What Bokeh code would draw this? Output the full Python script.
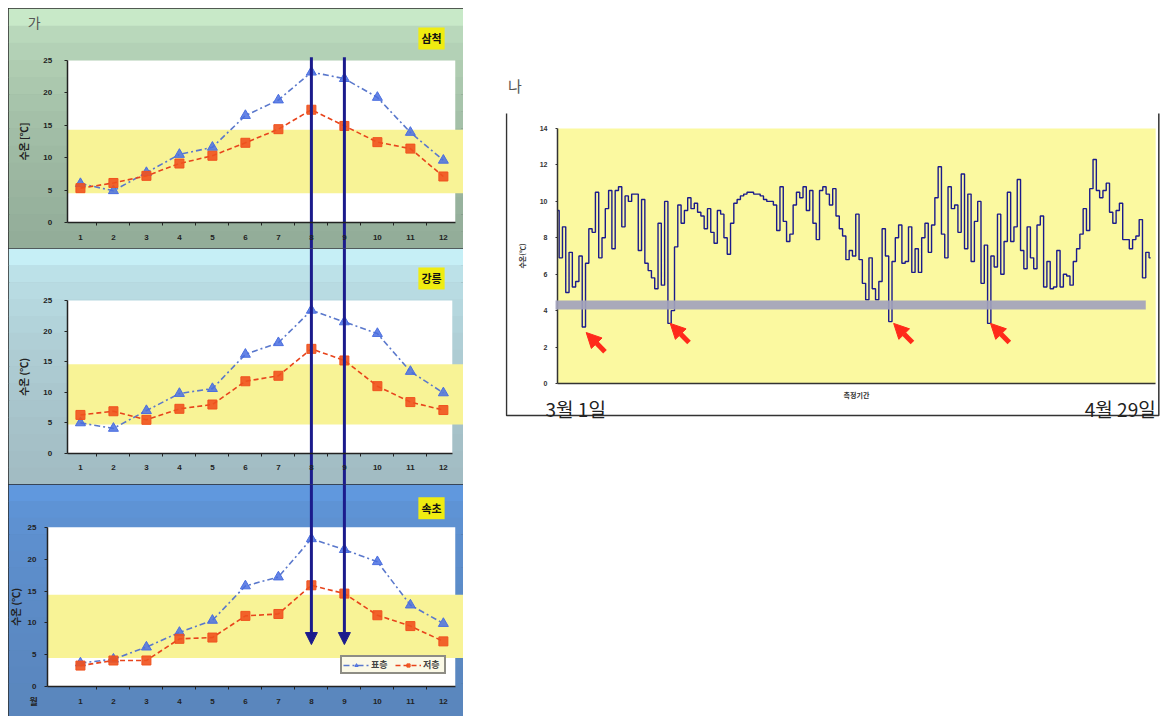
from bokeh.plotting import figure
from bokeh.models import (Range1d, BoxAnnotation, Label, FixedTicker, Arrow,
                          NormalHead, Legend, LegendItem, Spacer)
from bokeh.layouts import row, column
from bokeh.embed import file_html
from bokeh.resources import INLINE

# ---------------- data ----------------
months = [1, 2, 3, 4, 5, 6, 7, 8, 9, 10, 11, 12]
marked_months = [8, 9]

samcheok_surface = [6.0, 4.9, 7.7, 10.5, 11.6, 16.5, 18.9, 23.2, 22.2, 19.3, 13.9, 9.6]
samcheok_bottom = [5.3, 6.1, 7.2, 9.1, 10.3, 12.3, 14.4, 17.4, 14.9, 12.4, 11.4, 7.1]
gangneung_surface = [5.0, 4.1, 7.0, 9.8, 10.6, 16.2, 18.1, 23.4, 21.5, 19.6, 13.4, 9.9]
gangneung_bottom = [6.3, 6.9, 5.5, 7.3, 8.0, 11.8, 12.7, 17.1, 15.2, 11.0, 8.4, 7.1]
sokcho_surface = [3.7, 4.3, 6.2, 8.5, 10.4, 15.8, 17.2, 23.2, 21.5, 19.6, 12.8, 9.9]
sokcho_bottom = [3.3, 4.1, 4.1, 7.5, 7.7, 11.1, 11.4, 15.9, 14.6, 11.2, 9.5, 7.1]

# bottom water temperature, 1 Mar - 29 Apr, one value every 1/3 day
bottom_temp = [
    9.5, 6.9, 8.6, 5.0, 7.2, 5.3, 5.6, 7.0, 3.1, 6.6, 8.5, 8.3, 10.5, 6.9, 8.0,
    9.6, 10.6, 7.4, 10.6, 10.8, 8.6, 10.3, 10.0, 10.4, 10.4, 7.3, 10.1, 6.6, 6.2, 5.8,
    5.2, 8.8, 5.4, 10.0, 3.3, 4.0, 7.5, 9.8, 8.8, 9.5, 10.2, 9.6, 9.9, 9.4, 9.2,
    8.5, 9.6, 8.3, 7.7, 9.5, 9.3, 8.0, 7.1, 8.8, 9.9, 10.1, 10.3, 10.4, 10.5, 10.5,
    10.4, 10.4, 10.3, 10.1, 10.0, 10.0, 9.8, 8.4, 10.8, 8.9, 7.8, 8.2, 9.8, 10.5, 10.2,
    10.8, 9.5, 10.6, 8.8, 7.9, 10.6, 10.8, 10.4, 9.8, 10.7, 9.2, 8.5, 8.1, 6.8, 7.3, 7.0,
    9.3, 6.8, 5.5, 4.6, 6.9, 5.2, 4.6, 5.6, 8.5, 7.0, 3.4, 6.7, 8.0, 8.7, 6.6,
    6.7, 8.6, 6.1, 7.4, 6.1, 8.0, 8.8, 7.2, 8.7, 10.2, 11.9, 8.2, 6.9, 10.8, 9.6,
    9.8, 8.3, 11.5, 7.4, 10.4, 6.7, 8.9, 10.0, 5.5, 7.6, 3.3, 7.0, 6.4, 9.3, 6.0,
    7.8, 10.5, 7.8, 8.6, 11.2, 7.3, 6.3, 8.6, 6.9, 6.3, 8.7, 9.2, 5.3, 6.7, 5.2,
    5.3, 7.3, 5.3, 6.0, 5.9, 5.4, 6.7, 7.4, 8.2, 9.6, 8.4, 10.7, 12.3, 10.6, 10.2,
    10.6, 11.0, 9.4, 8.8, 9.5, 9.9, 7.9, 7.9, 7.4, 7.9, 8.1, 9.0, 5.8, 7.2, 6.9,
]
days = [i / 3 for i in range(len(bottom_temp))]

# low-temperature events (day, value) marked by red arrows
dip_days = [2.9, 11.4, 34.0, 43.8]
dip_vals = [2.8, 3.3, 3.3, 3.3]

NAVY = "#1b1b8c"
BLUE = "#4a6ee0"
RED = "#f0521e"
KFONT = "Noto Sans CJK KR"
NFONT = "Liberation Sans"


def lerp_color(c1, c2, t):
    a = [int(c1[i:i + 2], 16) for i in (1, 3, 5)]
    b = [int(c2[i:i + 2], 16) for i in (1, 3, 5)]
    return "#" + "".join(f"{round(x + (y - x) * t):02x}" for x, y in zip(a, b))


def make_panel(title, surface, bottom, height, y_lo, y_hi, white_lr, band,
               c_top, c_bot, title_y, ylabel, y_axis_x, line_top,
               arrow_end=None, legend=False, tick_standoff=12, label_standoff=10):
    p = figure(width=455, height=height, x_range=Range1d(-1.18, 12.61),
               y_range=Range1d(y_lo, y_hi), output_backend="svg",
               toolbar_location=None, min_border=0)
    p.min_border_left = p.min_border_right = 0
    p.min_border_top = p.min_border_bottom = 0
    p.grid.visible = False
    p.background_fill_color = c_bot
    p.border_fill_color = c_bot
    p.outline_line_color = "#2a2a2a"
    p.outline_line_width = 3

    n = 14
    span = y_hi - y_lo
    for i in range(n):
        t = (i / (n - 1)) ** 0.5
        p.add_layout(BoxAnnotation(bottom=y_hi - span * (i + 1) / n - 0.05,
                                   top=y_hi - span * i / n,
                                   fill_color=lerp_color(c_top, c_bot, t),
                                   fill_alpha=1, line_alpha=0, level="underlay"))
    p.add_layout(BoxAnnotation(left=white_lr[0], right=white_lr[1], bottom=0, top=25,
                               fill_color="white", fill_alpha=1, line_alpha=0,
                               level="underlay"))
    p.add_layout(BoxAnnotation(left=white_lr[0], bottom=band[0], top=band[1],
                               fill_color="#f8f396", fill_alpha=1, line_alpha=0,
                               level="underlay"))

    ls = p.line(months, surface, line_color="#5a78cc", line_width=1.6,
                line_dash="6 3 2 3")
    ms = p.scatter(months, surface, marker="triangle", size=10,
                   fill_color=BLUE, line_color=BLUE, fill_alpha=0.85)
    lb = p.line(months, bottom, line_color="#e8441c", line_width=1.6,
                line_dash="5 3")
    mb = p.scatter(months, bottom, marker="square", size=9,
                   fill_color=RED, line_color=RED, fill_alpha=0.9)

    for m in marked_months:
        if arrow_end is None:
            p.segment(x0=[m], y0=[line_top], x1=[m], y1=[y_lo - 2],
                      line_color=NAVY, line_width=3)
        else:
            p.add_layout(Arrow(end=NormalHead(size=12, fill_color=NAVY,
                                              line_color=NAVY),
                               x_start=m, y_start=line_top, x_end=m, y_end=arrow_end,
                               line_color=NAVY, line_width=3))

    xa = p.xaxis[0]
    ya = p.yaxis[0]
    xa.fixed_location = 0
    ya.fixed_location = y_axis_x
    xa.ticker = FixedTicker(ticks=months, minor_ticks=[m + 0.5 for m in months[:-1]])
    xa.bounds = (white_lr[0], white_lr[1])
    xa.major_tick_out = 0
    xa.major_tick_in = 0
    xa.minor_tick_out = 3
    xa.minor_tick_in = 0
    xa.major_label_standoff = 9
    ya.ticker = FixedTicker(ticks=[0, 5, 10, 15, 20, 25])
    ya.bounds = (0, 25)
    ya.major_tick_out = 3
    ya.major_tick_in = 0
    ya.minor_tick_out = 0
    ya.major_label_standoff = tick_standoff
    ya.axis_label = ylabel
    ya.axis_label_standoff = label_standoff
    ya.axis_label_text_font = KFONT
    ya.axis_label_text_font_size = "10px"
    ya.axis_label_text_font_style = "bold"
    ya.axis_label_text_color = "#222222"
    for ax in (xa, ya):
        ax.axis_line_color = "#222222"
        ax.axis_line_width = 1.5
        ax.major_tick_line_color = "#222222"
        ax.minor_tick_line_color = "#222222"
        ax.major_label_text_font = NFONT
        ax.major_label_text_font_size = "8px"
        ax.major_label_text_font_style = "bold"
        ax.major_label_text_color = "#222222"

    p.add_layout(Label(x=11.64, y=title_y, text=title, text_font=KFONT,
                       text_font_size="11px", text_font_style="bold",
                       text_color="#111111", text_align="center",
                       text_baseline="middle", background_fill_color="#f0ec10",
                       background_fill_alpha=1, padding=3))

    if legend:
        leg = Legend(items=[LegendItem(label="표층", renderers=[ls, ms]),
                            LegendItem(label="저층", renderers=[lb, mb])],
                     orientation="horizontal", location=(332, 42),
                     label_text_font=KFONT, label_text_font_size="9px",
                     label_text_font_style="bold", glyph_width=26, glyph_height=8,
                     label_standoff=2, spacing=4, padding=1, margin=0,
                     label_height=8, border_line_color="#222222",
                     border_line_width=2, background_fill_color="#fbf9e6",
                     background_fill_alpha=1)
        p.add_layout(leg)
    return p


p1 = make_panel("삼척", samcheok_surface, samcheok_bottom, 240, -4.01, 33.02,
                (0.6, 12.36), (4.5, 14.3), "#c8e9c8", "#93ad99", 28.4,
                "수온 [℃]", 0.6, 25.5)
p1.add_layout(Label(x=-0.6, y=30.9, text="가", text_font=KFONT, text_font_size="14px",
                    text_color="#555555", text_baseline="middle"))
p2 = make_panel("강릉", gangneung_surface, gangneung_bottom, 236, -5.07, 33.5,
                (0.6, 12.27), (4.75, 14.6), "#c6eff6", "#a2bcc3", 28.6,
                "수온 (℃)", 0.6, 36)
p3 = make_panel("속초", sokcho_surface, sokcho_bottom, 232, -4.69, 31.72,
                (0.0, 12.36), (4.5, 14.4), "#6098de", "#5a86bd", 28.0,
                "수온 (℃)", 0.0, 34, arrow_end=6.6, legend=True,
                tick_standoff=8, label_standoff=2)
p3.add_layout(Label(x=-0.42, y=-2.34, text="월", text_font=KFONT, text_font_size="9px",
                    text_font_style="bold", text_color="#222222",
                    text_align="center", text_baseline="middle"))

# ---------------- right chart ----------------
# figure spans page x 505..1160, y 8..432
r = figure(width=655, height=424, x_range=Range1d(-5.261, 60.99),
           y_range=Range1d(-2.69, 20.59), output_backend="svg",
           toolbar_location=None, min_border=0)
r.min_border_left = r.min_border_right = 0
r.min_border_top = r.min_border_bottom = 0
r.grid.visible = False
r.background_fill_color = "white"
r.border_fill_color = "white"
r.outline_line_color = None

r.add_layout(BoxAnnotation(left=0, right=60.5, bottom=0, top=14, fill_color="#fbf9a0",
                           fill_alpha=1, line_alpha=0, level="underlay"))
r.step(days, bottom_temp, mode="center", line_color=NAVY, line_width=1.4)
r.add_layout(BoxAnnotation(left=-0.2, right=59.5, bottom=4.07, top=4.56,
                           fill_color="#a2a2bc", fill_alpha=0.92, line_alpha=0))
for d, v in zip(dip_days, dip_vals):
    r.add_layout(Arrow(end=NormalHead(size=15, fill_color="#ff2a1a", line_color="#ff2a1a"),
                       x_start=d + 1.9, y_start=v - 1.05, x_end=d, y_end=v,
                       line_color="#ff2a1a", line_width=5))

# open box around the chart (left, bottom, right)
r.line(x=[-5.16, -5.16, 60.82, 60.82], y=[14.82, -1.757, -1.757, 14.82],
       line_color="#333333", line_width=1.5)

rx = r.xaxis[0]
ry = r.yaxis[0]
rx.fixed_location = 0
ry.fixed_location = 0
rx.ticker = FixedTicker(ticks=[])
rx.bounds = (0, 60.5)
rx.axis_label = "측정기간"
rx.axis_label_standoff = 6
ry.ticker = FixedTicker(ticks=[0, 2, 4, 6, 8, 10, 12, 14])
ry.bounds = (0, 14)
ry.major_tick_out = 2
ry.major_tick_in = 0
ry.minor_tick_out = 0
ry.major_label_standoff = 8
ry.axis_label = "수온(℃)"
ry.axis_label_standoff = 10
for ax in (rx, ry):
    ax.axis_line_color = "#333333"
    ax.axis_line_width = 1.5
    ax.major_tick_line_color = "#333333"
    ax.major_label_text_font = NFONT
    ax.major_label_text_font_size = "7px"
    ax.major_label_text_font_style = "bold"
    ax.major_label_text_color = "#333333"
    ax.axis_label_text_font = KFONT
    ax.axis_label_text_font_size = "7px"
    ax.axis_label_text_font_style = "bold"
    ax.axis_label_text_color = "#333333"

r.add_layout(Label(x=-5.0, y=16.35, text="나", text_font=KFONT, text_font_size="15px",
                   text_color="#555555", text_baseline="middle"))
r.add_layout(Label(x=-1.21, y=-0.62, text="3월 1일", text_font=KFONT,
                   text_font_size="19px", text_color="#222222", text_baseline="top"))
r.add_layout(Label(x=60.5, y=-0.62, text="4월 29일", text_font=KFONT,
                   text_font_size="19px", text_color="#222222", text_baseline="top",
                   text_align="right"))

left = column(p1, p2, p3)
body = row(Spacer(width=8, height=8), left, Spacer(width=42, height=8), r)
layout = column(Spacer(width=8, height=8), body)
open("out.html", "w").write(file_html(layout, INLINE))
